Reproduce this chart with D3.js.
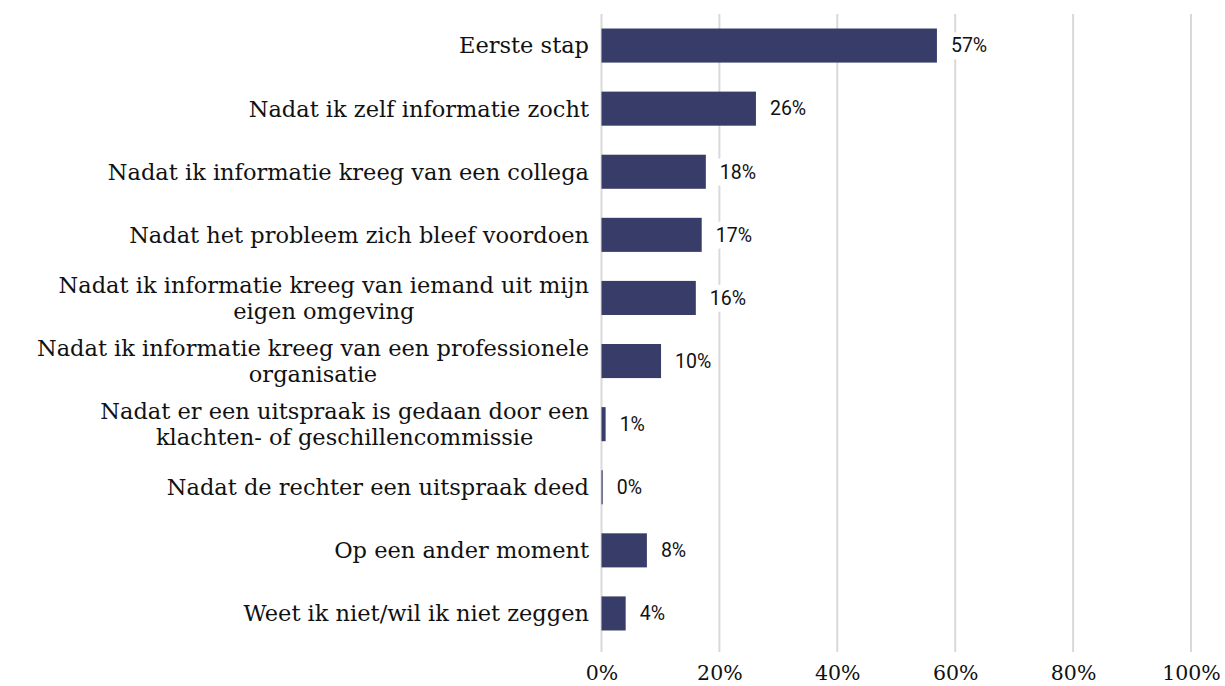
<!DOCTYPE html>
<html>
<head>
<meta charset="utf-8">
<script src="https://cdn.jsdelivr.net/npm/d3@7"></script>
<style>
  body { margin: 0; background: #fff; }
  .cat { font-family: "DejaVu Serif", serif; font-size: 22.5px; fill: #111; }
  .tick text { font-family: "DejaVu Serif", serif; font-size: 20.5px; fill: #111; }
  .val { font-family: Roboto, sans-serif; font-size: 19.5px; fill: #111; }
</style>
</head>
<body>
<svg id="chart"></svg>
<script>
var categories = [
  "Eerste stap",
  "Nadat ik zelf informatie zocht",
  "Nadat ik informatie kreeg van een collega",
  "Nadat het probleem zich bleef voordoen",
  "Nadat ik informatie kreeg van iemand uit mijn eigen omgeving",
  "Nadat ik informatie kreeg van een professionele organisatie",
  "Nadat er een uitspraak is gedaan door een klachten- of geschillencommissie",
  "Nadat de rechter een uitspraak deed",
  "Op een ander moment",
  "Weet ik niet/wil ik niet zeggen"
];
var values = [56.9, 26.2, 17.7, 17.0, 16.0, 10.1, 0.7, 0.2, 7.7, 4.1];
var valueLabels = ["57%", "26%", "18%", "17%", "16%", "10%", "1%", "0%", "8%", "4%"];
var xTicks = [0, 20, 40, 60, 80, 100];

var width = 1225, height = 686,
    margin = {top: 14, right: 34, bottom: 41, left: 601.5};

var svg = d3.select("#chart").attr("width", width).attr("height", height);

var x = d3.scaleLinear().domain([0, 100]).range([margin.left, width - margin.right]);
var y = d3.scaleBand().domain(categories).range([margin.top, height - margin.bottom]).paddingInner(0.46).paddingOuter(0.23);

// gridlines
svg.append("g").selectAll("line").data(xTicks).enter().append("line")
    .attr("x1", function(d) { return x(d); })
    .attr("x2", function(d) { return x(d); })
    .attr("y1", 14).attr("y2", 652)
    .attr("stroke", "#d9d9d9").attr("stroke-width", 2);

// x axis labels
var xAxis = svg.append("g")
    .attr("transform", "translate(0,673)")
    .call(d3.axisBottom(x).tickValues(xTicks).tickSize(0).tickFormat(function(d) { return d + "%"; }));
xAxis.select(".domain").remove();
xAxis.selectAll("text").attr("dy", "0.35em").attr("y", 0);

// bars
svg.append("g").selectAll("rect").data(categories).enter().append("rect")
    .attr("x", x(0))
    .attr("y", function(d) { return y(d); })
    .attr("width", function(d, i) { return x(values[i]) - x(0); })
    .attr("height", y.bandwidth())
    .attr("fill", "#383c68");

// value labels with white background
var vl = svg.append("g").selectAll("g").data(categories).enter().append("g")
    .attr("transform", function(d, i) { return "translate(" + (x(values[i]) + 14) + "," + (y(d) + y.bandwidth() / 2) + ")"; });
vl.append("text").attr("class", "val").attr("dy", "0.35em")
    .text(function(d, i) { return valueLabels[i]; });
vl.each(function() {
  var g = d3.select(this), bb = g.select("text").node().getBBox();
  g.insert("rect", "text").attr("x", bb.x - 4).attr("y", bb.y - 2)
    .attr("width", bb.width + 8).attr("height", bb.height + 4).attr("fill", "#fff");
});

// category labels with wrapping
var labelRight = 589, maxW = 575, lineH = 26;
var cl = svg.append("g").selectAll("text").data(categories).enter().append("text")
    .attr("class", "cat")
    .attr("text-anchor", "middle");
cl.each(function(d) {
  var t = d3.select(this), words = d.split(" "), lines = [], line = [];
  var probe = t.append("tspan");
  words.forEach(function(w) {
    line.push(w);
    probe.text(line.join(" "));
    if (probe.node().getComputedTextLength() > maxW && line.length > 1) {
      line.pop(); lines.push(line.join(" ")); line = [w];
    }
  });
  lines.push(line.join(" "));
  probe.remove();
  var widths = lines.map(function(l) { probe = t.append("tspan").text(l); var w = probe.node().getComputedTextLength(); probe.remove(); return w; });
  var maxLine = d3.max(widths);
  var cy = y(d) + y.bandwidth() / 2 - (lines.length - 1) * lineH / 2;
  lines.forEach(function(l, k) {
    t.append("tspan").attr("x", labelRight - maxLine / 2).attr("y", cy + k * lineH).attr("dy", "0.35em").text(l);
  });
});
</script>
</body>
</html>
